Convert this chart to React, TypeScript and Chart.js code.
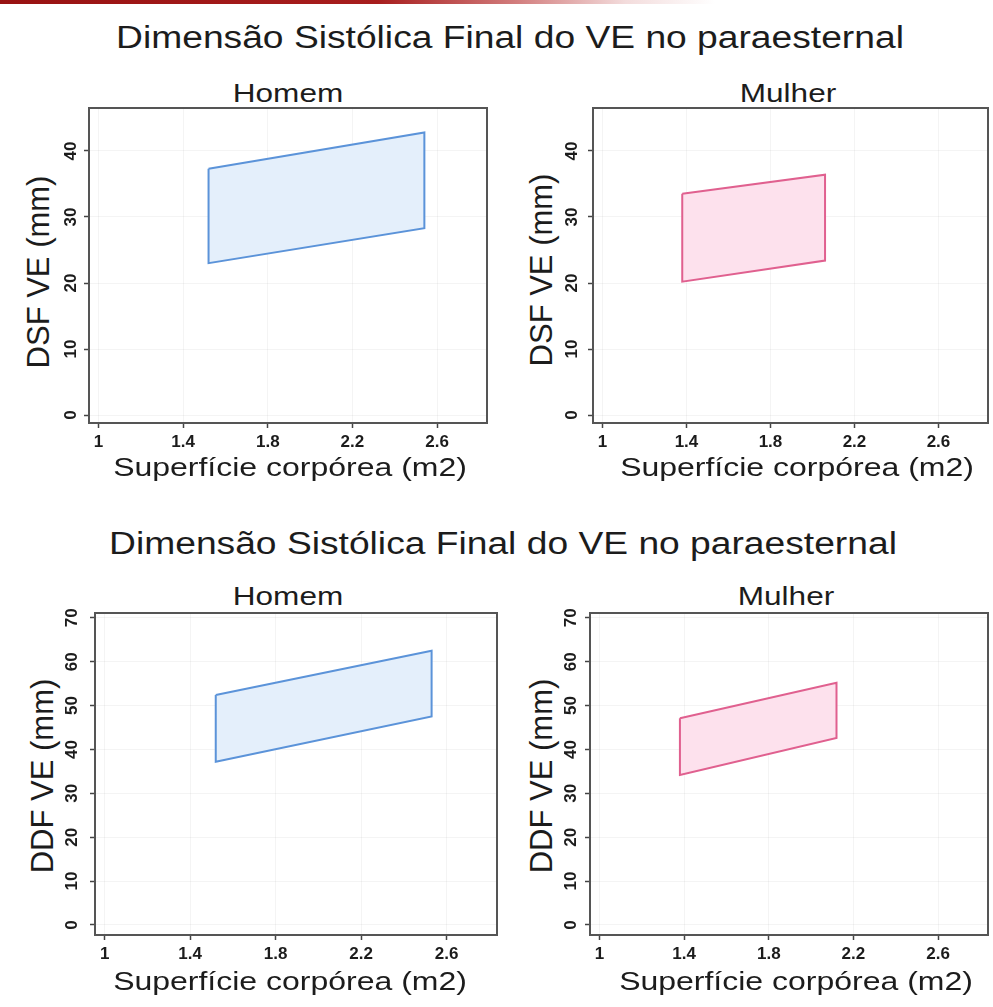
import React, { useEffect, useRef } from 'react';
import { Chart, registerables } from 'chart.js';

Chart.register(...registerables);

const FONT = "'Liberation Sans', Arial, Helvetica, sans-serif";
Chart.defaults.font.family = FONT;

// ---- text ----
const MAIN_TITLE = 'Dimensão Sistólica Final do VE no paraesternal';
const SUB_HOMEM = 'Homem';
const SUB_MULHER = 'Mulher';
const X_TITLE = 'Superfície corpórea (m2)';
const Y_TITLE_DSF = 'DSF VE (mm)';
const Y_TITLE_DDF = 'DDF VE (mm)';

// ---- ticks ----
const X_TICKS = [1, 1.4, 1.8, 2.2, 2.6];
const X_TICK_LABELS = ['1', '1.4', '1.8', '2.2', '2.6'];
const Y_TICKS_DSF = [0, 10, 20, 30, 40];
const Y_TICK_LABELS_DSF = ['0', '10', '20', '30', '40'];
const Y_TICKS_DDF = [0, 10, 20, 30, 40, 50, 60, 70];
const Y_TICK_LABELS_DDF = ['0', '10', '20', '30', '40', '50', '60', '70'];

// ---- axis ranges ----
const X_RANGE = [0.955, 2.836];
const Y_RANGE_DSF = [-1.2, 46.5];
const Y_RANGE_DDF = [-2.3, 71.1];

// ---- data: normal range bands (BSA ends, upper limit, lower limit) ----
const DSF_HOMEM_BSA = [1.52, 2.54];
const DSF_HOMEM_UPPER = [37.3, 42.8];
const DSF_HOMEM_LOWER = [23.0, 28.3];

const DSF_MULHER_BSA = [1.38, 2.06];
const DSF_MULHER_UPPER = [33.5, 36.4];
const DSF_MULHER_LOWER = [20.2, 23.4];

const DDF_HOMEM_BSA = [1.52, 2.53];
const DDF_HOMEM_UPPER = [52.4, 62.5];
const DDF_HOMEM_LOWER = [37.2, 47.5];

const DDF_MULHER_BSA = [1.38, 2.12];
const DDF_MULHER_UPPER = [47.1, 55.2];
const DDF_MULHER_LOWER = [34.2, 42.6];

const BLUE_STROKE = '#5b93d9';
const BLUE_FILL = '#e4effb';
const PINK_STROKE = '#e0608f';
const PINK_FILL = '#fde1ed';

const TEXT = '#1c1c1c';

const frameBox = {
  id: 'frameBox',
  afterDatasetsDraw(chart: any) {
    const { ctx, chartArea: a } = chart;
    ctx.save();
    ctx.strokeStyle = '#555555';
    ctx.lineWidth = 2;
    ctx.strokeRect(a.left, a.top, a.right - a.left, a.bottom - a.top);
    ctx.restore();
  },
};

type PanelProps = {
  area: [number, number, number, number];
  yRange: number[];
  yTicks: number[];
  yTickLabels: string[];
  yTickPad: number;
  bsa: number[];
  upper: number[];
  lower: number[];
  stroke: string;
  fill: string;
};

function Panel(p: PanelProps) {
  const ref = useRef<HTMLCanvasElement>(null);
  const [L, T, R, B] = p.area;
  const WY = 34;
  const HX = 32;
  const PAD_TOP = 24;
  const PAD_RIGHT = 4;
  const left = L - WY;
  const top = T - PAD_TOP;
  const width = R + PAD_RIGHT - left;
  const height = B + HX - top;

  useEffect(() => {
    const canvas = ref.current;
    if (!canvas) return;
    const pts = [
      { x: p.bsa[0], y: p.upper[0] },
      { x: p.bsa[1], y: p.upper[1] },
      { x: p.bsa[1], y: p.lower[1] },
      { x: p.bsa[0], y: p.lower[0] },
      { x: p.bsa[0], y: p.upper[0] },
    ];
    const tickFont = { size: 17, weight: 'bold' as const, family: FONT };
    const chart = new Chart(canvas, {
      type: 'scatter',
      data: {
        datasets: [
          {
            data: pts,
            showLine: true,
            fill: 'shape' as any,
            borderColor: p.stroke,
            backgroundColor: p.fill,
            borderWidth: 2,
            pointRadius: 0,
            pointHoverRadius: 0,
            tension: 0,
          },
        ],
      },
      options: {
        responsive: false,
        animation: false,
        devicePixelRatio: 1,
        events: [],
        layout: { autoPadding: false, padding: { top: PAD_TOP, right: PAD_RIGHT, left: 0, bottom: 0 } },
        plugins: { legend: { display: false }, tooltip: { enabled: false }, title: { display: false } },
        scales: {
          x: {
            type: 'linear',
            position: 'bottom',
            min: X_RANGE[0],
            max: X_RANGE[1],
            afterBuildTicks: (s: any) => {
              s.ticks = X_TICKS.map((v) => ({ value: v }));
            },
            afterFit: (s: any) => {
              s.height = HX;
            },
            border: { display: false },
            grid: {
              color: 'rgba(0,0,0,0.045)',
              tickColor: '#444444',
              tickLength: 5,
              tickWidth: 1.5,
              lineWidth: 1,
            },
            ticks: {
              autoSkip: false,
              maxRotation: 0,
              minRotation: 0,
              padding: 4,
              color: TEXT,
              font: tickFont,
              callback: (_v: any, i: number) => X_TICK_LABELS[i],
            },
          },
          y: {
            type: 'linear',
            position: 'left',
            min: p.yRange[0],
            max: p.yRange[1],
            afterBuildTicks: (s: any) => {
              s.ticks = p.yTicks.map((v) => ({ value: v }));
            },
            afterFit: (s: any) => {
              s.width = WY;
            },
            border: { display: false },
            grid: {
              color: 'rgba(0,0,0,0.045)',
              tickColor: '#444444',
              tickLength: 5,
              tickWidth: 1.5,
              lineWidth: 1,
            },
            ticks: {
              autoSkip: false,
              minRotation: 90,
              maxRotation: 90,
              crossAlign: 'center',
              padding: p.yTickPad,
              color: TEXT,
              font: tickFont,
              callback: (_v: any, i: number) => p.yTickLabels[i],
            },
          },
        },
      },
      plugins: [frameBox],
    });
    return () => chart.destroy();
  }, []);

  return (
    <canvas
      ref={ref}
      width={width}
      height={height}
      style={{ position: 'absolute', left, top, width, height, display: 'block' }}
    />
  );
}

function HText(props: { text: string; cx: number; top: number; size: number; sx: number }) {
  return (
    <div
      style={{
        position: 'absolute',
        left: props.cx,
        top: props.top,
        fontSize: props.size,
        lineHeight: 1,
        whiteSpace: 'nowrap',
        color: TEXT,
        transform: `translateX(-50%) scaleX(${props.sx})`,
        transformOrigin: 'center',
        fontFamily: FONT,
      }}
    >
      {props.text}
    </div>
  );
}

function VText(props: { text: string; cx: number; cy: number; size: number }) {
  return (
    <div
      style={{
        position: 'absolute',
        left: props.cx,
        top: props.cy,
        fontSize: props.size,
        lineHeight: 1,
        whiteSpace: 'nowrap',
        color: TEXT,
        transform: 'translate(-50%, -50%) rotate(-90deg)',
        fontFamily: FONT,
      }}
    >
      {props.text}
    </div>
  );
}

export default function App() {
  return (
    <div
      style={{
        position: 'absolute',
        left: 0,
        top: 0,
        width: 993,
        height: 1007,
        background: '#ffffff',
        overflow: 'hidden',
        fontFamily: FONT,
      }}
    >
      <div
        style={{
          position: 'absolute',
          left: 0,
          top: 0,
          width: 993,
          height: 4,
          background:
            'linear-gradient(90deg, #981212 0%, #a71d1d 38%, #d27d7d 52%, #f3dcdc 63%, #ffffff 72%)',
        }}
      />

      {/* top figure */}
      <HText text={MAIN_TITLE} cx={510} top={21.5} size={31} sx={1.2} />
      <HText text={SUB_HOMEM} cx={288} top={79.5} size={26.5} sx={1.19} />
      <HText text={SUB_MULHER} cx={788} top={79.5} size={26.5} sx={1.19} />

      <VText text={Y_TITLE_DSF} cx={38} cy={272} size={31} />
      <VText text={Y_TITLE_DSF} cx={541} cy={270} size={31} />

      <Panel
        area={[89, 108, 487, 423]}
        yRange={Y_RANGE_DSF}
        yTicks={Y_TICKS_DSF}
        yTickLabels={Y_TICK_LABELS_DSF}
        yTickPad={3}
        bsa={DSF_HOMEM_BSA}
        upper={DSF_HOMEM_UPPER}
        lower={DSF_HOMEM_LOWER}
        stroke={BLUE_STROKE}
        fill={BLUE_FILL}
      />
      <Panel
        area={[593, 108, 988, 423]}
        yRange={Y_RANGE_DSF}
        yTicks={Y_TICKS_DSF}
        yTickLabels={Y_TICK_LABELS_DSF}
        yTickPad={6}
        bsa={DSF_MULHER_BSA}
        upper={DSF_MULHER_UPPER}
        lower={DSF_MULHER_LOWER}
        stroke={PINK_STROKE}
        fill={PINK_FILL}
      />

      <HText text={X_TITLE} cx={290} top={454} size={26} sx={1.23} />
      <HText text={X_TITLE} cx={797} top={454} size={26} sx={1.23} />

      {/* bottom figure */}
      <HText text={MAIN_TITLE} cx={503} top={528} size={31} sx={1.2} />
      <HText text={SUB_HOMEM} cx={288} top={583} size={26.5} sx={1.19} />
      <HText text={SUB_MULHER} cx={786} top={583} size={26.5} sx={1.19} />

      <VText text={Y_TITLE_DDF} cx={42} cy={776} size={31} />
      <VText text={Y_TITLE_DDF} cx={541} cy={776} size={31} />

      <Panel
        area={[95, 613, 497, 935]}
        yRange={Y_RANGE_DDF}
        yTicks={Y_TICKS_DDF}
        yTickLabels={Y_TICK_LABELS_DDF}
        yTickPad={8}
        bsa={DDF_HOMEM_BSA}
        upper={DDF_HOMEM_UPPER}
        lower={DDF_HOMEM_LOWER}
        stroke={BLUE_STROKE}
        fill={BLUE_FILL}
      />
      <Panel
        area={[590, 613, 988, 935]}
        yRange={Y_RANGE_DDF}
        yTicks={Y_TICKS_DDF}
        yTickLabels={Y_TICK_LABELS_DDF}
        yTickPad={4}
        bsa={DDF_MULHER_BSA}
        upper={DDF_MULHER_UPPER}
        lower={DDF_MULHER_LOWER}
        stroke={PINK_STROKE}
        fill={PINK_FILL}
      />

      <HText text={X_TITLE} cx={290} top={968} size={26} sx={1.23} />
      <HText text={X_TITLE} cx={796} top={968} size={26} sx={1.23} />
    </div>
  );
}
